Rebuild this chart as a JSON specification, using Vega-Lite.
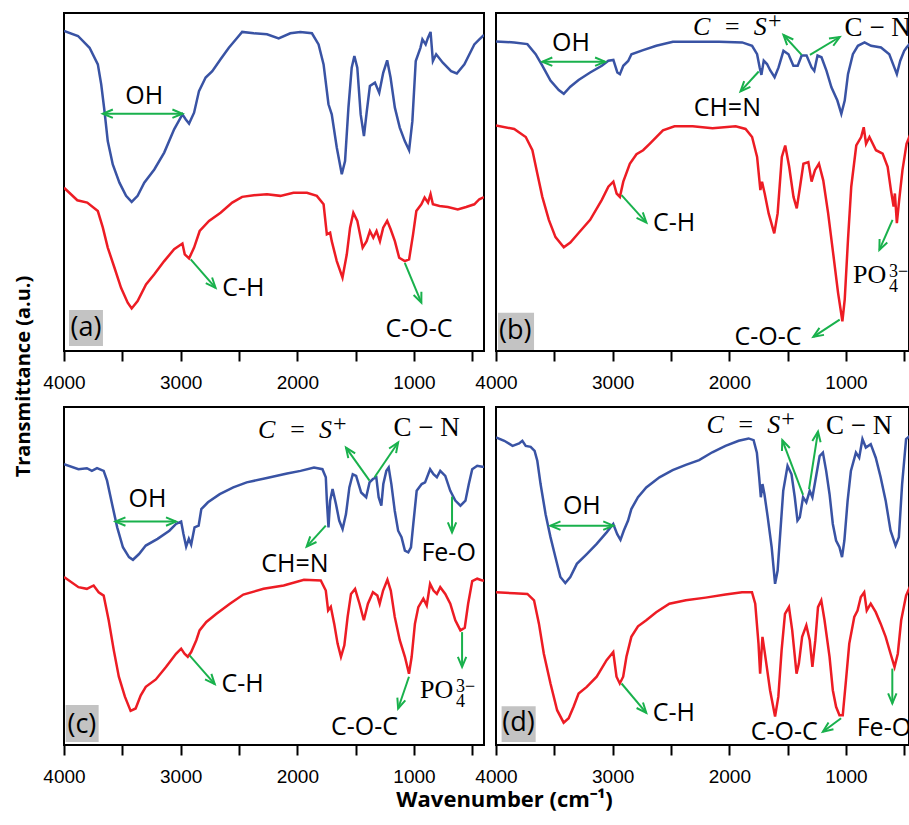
{
"$schema":"https://vega.github.io/schema/vega-lite/v6.json",
"background":"white",
"padding":{"left":12,"top":12,"right":0,"bottom":0},
"config":{"view":{"stroke":"black","strokeWidth":2}},
"columns":2,
"spacing":{"row":56,"column":12},
"bounds":"flush",
"datasets":{
"boxes":[{"p":"a","w":3957,"w2":3666,"t":1.5,"t2":12.1},{"p":"b","w":3983,"w2":3674,"t":0.3,"t2":11.3},{"p":"c","w":3986,"w2":3703,"t":0.9,"t2":11.8},{"p":"d","w":3952,"w2":3660,"t":0.9,"t2":11.5}],
"notes":[
{"p":"a","k":"p","l":"OH","w":3312,"t":75.4},{"p":"a","k":"p","l":"C-H","w":2463,"t":18.5},{"p":"a","k":"p","l":"C-O-C","w":957,"t":6.4},{"p":"a","k":"L","l":"(a)","w":3812,"t":6.8},
{"p":"b","k":"p","l":"OH","w":3357,"t":91.0},{"p":"b","k":"p","l":"CH=N","w":2017,"t":71.9},{"p":"b","k":"m","l":"C\u2002=\u2002S","w":1918,"t":95.9},{"p":"b","k":"s","l":"C − N","w":728,"t":95.7},{"p":"b","k":"p","l":"C-H","w":2474,"t":37.8},{"p":"b","k":"p","l":"C-O-C","w":1669,"t":4.2},{"p":"b","k":"po","l":"PO","w":940,"t":22.6},{"p":"b","k":"L","l":"(b)","w":3836,"t":5.9},
{"p":"c","k":"p","l":"OH","w":3285,"t":72.8},{"p":"c","k":"p","l":"CH=N","w":2021,"t":53.6},{"p":"c","k":"m","l":"C\u2002=\u2002S","w":1943,"t":93.1},{"p":"c","k":"s","l":"C − N","w":891,"t":93.9},{"p":"c","k":"p","l":"Fe-O","w":703,"t":56.7},{"p":"c","k":"p","l":"C-H","w":2470,"t":18.0},{"p":"c","k":"p","l":"C-O-C","w":1424,"t":5.4},{"p":"c","k":"po","l":"PO","w":948,"t":16.2},{"p":"c","k":"L","l":"(c)","w":3847,"t":5.9},
{"p":"d","k":"p","l":"OH","w":3264,"t":70.8},{"p":"d","k":"m","l":"C\u2002=\u2002S","w":1803,"t":94.7},{"p":"d","k":"s","l":"C − N","w":887,"t":94.4},{"p":"d","k":"p","l":"C-H","w":2476,"t":9.5},{"p":"d","k":"p","l":"C-O-C","w":1529,"t":3.9},{"p":"d","k":"p","l":"Fe-O","w":675,"t":4.9},{"p":"d","k":"L","l":"(d)","w":3808,"t":6.4}
],
"arrows":[
{"p":"a","w":3667,"t":70.2,"w2":2985,"t2":70.2},{"p":"a","w":2914,"t":27.1,"w2":2701,"t2":18.7},{"p":"a","w":1079,"t":26.1,"w2":937,"t2":14.3},
{"p":"b","w":3603,"t":85.6,"w2":3065,"t2":85.6},{"p":"b","w":1748,"t":82.7,"w2":1904,"t2":76.8},{"p":"b","w":1380,"t":87.6,"w2":1536,"t2":93.5},{"p":"b","w":1309,"t":87.6,"w2":1054,"t2":92.9},{"p":"b","w":2924,"t":46.1,"w2":2711,"t2":38.0},{"p":"b","w":1054,"t":9.3,"w2":1280,"t2":4.2},{"p":"b","w":601,"t":38.8,"w2":714,"t2":29.9},
{"p":"c","w":3559,"t":66.1,"w2":3040,"t2":66.1},{"p":"c","w":1756,"t":64.9,"w2":1920,"t2":58.7},{"p":"c","w":1381,"t":78.2,"w2":1583,"t2":88.0},{"p":"c","w":1338,"t":79.2,"w2":1136,"t2":89.5},{"p":"c","w":674,"t":73.5,"w2":674,"t2":62.9},{"p":"c","w":2924,"t":26.5,"w2":2708,"t2":18.0},{"p":"c","w":1043,"t":20.2,"w2":1136,"t2":10.8},{"p":"c","w":588,"t":33.4,"w2":588,"t2":23.1},
{"p":"d","w":3533,"t":64.9,"w2":2995,"t2":64.9},{"p":"d","w":1368,"t":74.0,"w2":1546,"t2":90.2},{"p":"d","w":1317,"t":75.7,"w2":1240,"t2":92.7},{"p":"d","w":2924,"t":18.2,"w2":2712,"t2":9.5},{"p":"d","w":1042,"t":7.9,"w2":1198,"t2":3.9},{"p":"d","w":603,"t":22.6,"w2":603,"t2":12.3}
],
"heads":[
{"p":"a","w":3667,"t":70.2,"a":270},{"p":"a","w":2985,"t":70.2,"a":90},{"p":"a","w":2701,"t":18.7,"a":138.6},{"p":"a","w":937,"t":14.3,"a":157.4},
{"p":"b","w":3603,"t":85.6,"a":270},{"p":"b","w":3065,"t":85.6,"a":90},{"p":"b","w":1904,"t":76.8,"a":222.5},{"p":"b","w":1536,"t":93.5,"a":317.5},{"p":"b","w":1054,"t":92.9,"a":59},{"p":"b","w":2711,"t":38.0,"a":137.9},{"p":"b","w":1280,"t":4.2,"a":237},{"p":"b","w":714,"t":29.9,"a":204},
{"p":"c","w":3559,"t":66.1,"a":270},{"p":"c","w":3040,"t":66.1,"a":90},{"p":"c","w":1920,"t":58.7,"a":222.1},{"p":"c","w":1583,"t":88.0,"a":325},{"p":"c","w":1136,"t":89.5,"a":33.7},{"p":"c","w":674,"t":62.9,"a":180},{"p":"c","w":2708,"t":18.0,"a":139.2},{"p":"c","w":1136,"t":10.8,"a":198.6},{"p":"c","w":588,"t":23.1,"a":180},
{"p":"d","w":3533,"t":64.9,"a":270},{"p":"d","w":2995,"t":64.9,"a":90},{"p":"d","w":1546,"t":90.2,"a":339},{"p":"d","w":1240,"t":92.7,"a":8.9},{"p":"d","w":2712,"t":9.5,"a":139.6},{"p":"d","w":1198,"t":3.9,"a":234},{"p":"d","w":603,"t":12.3,"a":180}
],
"spectra":[
{"p":"a","s":"top","w":4000,"t":94.7},{"p":"a","s":"top","w":3880,"t":93.2},{"p":"a","s":"top","w":3781,"t":89.7},{"p":"a","s":"top","w":3710,"t":84.8},{"p":"a","s":"top","w":3681,"t":78.9},{"p":"a","s":"top","w":3653,"t":71.0},{"p":"a","s":"top","w":3625,"t":62.1},{"p":"a","s":"top","w":3582,"t":55.2},{"p":"a","s":"top","w":3525,"t":49.8},{"p":"a","s":"top","w":3468,"t":45.9},{"p":"a","s":"top","w":3420,"t":44.1},{"p":"a","s":"top","w":3369,"t":45.9},{"p":"a","s":"top","w":3312,"t":49.8},{"p":"a","s":"top","w":3226,"t":53.7},{"p":"a","s":"top","w":3141,"t":58.7},{"p":"a","s":"top","w":3056,"t":65.6},{"p":"a","s":"top","w":2985,"t":70.0},{"p":"a","s":"top","w":2956,"t":68.5},{"p":"a","s":"top","w":2928,"t":67.3},{"p":"a","s":"top","w":2885,"t":70.5},{"p":"a","s":"top","w":2843,"t":76.9},{"p":"a","s":"top","w":2786,"t":80.9},{"p":"a","s":"top","w":2729,"t":82.8},{"p":"a","s":"top","w":2658,"t":86.3},{"p":"a","s":"top","w":2587,"t":89.7},{"p":"a","s":"top","w":2515,"t":92.7},{"p":"a","s":"top","w":2473,"t":94.4},{"p":"a","s":"top","w":2373,"t":94.0},{"p":"a","s":"top","w":2260,"t":93.7},{"p":"a","s":"top","w":2160,"t":92.5},{"p":"a","s":"top","w":2060,"t":94.0},{"p":"a","s":"top","w":1975,"t":94.4},{"p":"a","s":"top","w":1875,"t":94.0},{"p":"a","s":"top","w":1818,"t":90.7},{"p":"a","s":"top","w":1775,"t":84.8},{"p":"a","s":"top","w":1733,"t":73.0},{"p":"a","s":"top","w":1705,"t":70.0},{"p":"a","s":"top","w":1662,"t":60.2},{"p":"a","s":"top","w":1619,"t":52.3},{"p":"a","s":"top","w":1591,"t":56.2},{"p":"a","s":"top","w":1562,"t":72.0},{"p":"a","s":"top","w":1534,"t":83.8},{"p":"a","s":"top","w":1511,"t":87.3},{"p":"a","s":"top","w":1486,"t":83.8},{"p":"a","s":"top","w":1457,"t":70.0},{"p":"a","s":"top","w":1429,"t":63.6},{"p":"a","s":"top","w":1406,"t":70.5},{"p":"a","s":"top","w":1378,"t":78.4},{"p":"a","s":"top","w":1335,"t":79.4},{"p":"a","s":"top","w":1298,"t":76.4},{"p":"a","s":"top","w":1264,"t":82.3},{"p":"a","s":"top","w":1230,"t":86.0},{"p":"a","s":"top","w":1201,"t":80.9},{"p":"a","s":"top","w":1164,"t":72.0},{"p":"a","s":"top","w":1122,"t":66.1},{"p":"a","s":"top","w":1079,"t":62.1},{"p":"a","s":"top","w":1042,"t":59.4},{"p":"a","s":"top","w":1014,"t":68.0},{"p":"a","s":"top","w":985,"t":85.8},{"p":"a","s":"top","w":945,"t":89.7},{"p":"a","s":"top","w":928,"t":92.2},{"p":"a","s":"top","w":900,"t":90.7},{"p":"a","s":"top","w":880,"t":92.7},{"p":"a","s":"top","w":858,"t":94.4},{"p":"a","s":"top","w":838,"t":85.8},{"p":"a","s":"top","w":810,"t":87.8},{"p":"a","s":"top","w":753,"t":85.3},{"p":"a","s":"top","w":682,"t":82.8},{"p":"a","s":"top","w":633,"t":82.1},{"p":"a","s":"top","w":568,"t":84.8},{"p":"a","s":"top","w":525,"t":87.8},{"p":"a","s":"top","w":483,"t":90.7},{"p":"a","s":"top","w":440,"t":92.2},{"p":"a","s":"top","w":400,"t":93.5},
{"p":"a","s":"bottom","w":4000,"t":48.3},{"p":"a","s":"bottom","w":3886,"t":44.6},{"p":"a","s":"bottom","w":3801,"t":43.9},{"p":"a","s":"bottom","w":3710,"t":41.4},{"p":"a","s":"bottom","w":3667,"t":36.5},{"p":"a","s":"bottom","w":3625,"t":30.6},{"p":"a","s":"bottom","w":3568,"t":24.7},{"p":"a","s":"bottom","w":3511,"t":18.7},{"p":"a","s":"bottom","w":3454,"t":14.3},{"p":"a","s":"bottom","w":3420,"t":12.6},{"p":"a","s":"bottom","w":3369,"t":14.8},{"p":"a","s":"bottom","w":3297,"t":19.7},{"p":"a","s":"bottom","w":3226,"t":22.7},{"p":"a","s":"bottom","w":3141,"t":26.6},{"p":"a","s":"bottom","w":3056,"t":30.1},{"p":"a","s":"bottom","w":2985,"t":31.8},{"p":"a","s":"bottom","w":2965,"t":28.6},{"p":"a","s":"bottom","w":2928,"t":27.4},{"p":"a","s":"bottom","w":2885,"t":30.6},{"p":"a","s":"bottom","w":2837,"t":35.5},{"p":"a","s":"bottom","w":2757,"t":38.5},{"p":"a","s":"bottom","w":2658,"t":40.9},{"p":"a","s":"bottom","w":2558,"t":43.9},{"p":"a","s":"bottom","w":2473,"t":45.6},{"p":"a","s":"bottom","w":2373,"t":46.1},{"p":"a","s":"bottom","w":2260,"t":46.4},{"p":"a","s":"bottom","w":2146,"t":45.9},{"p":"a","s":"bottom","w":2033,"t":46.8},{"p":"a","s":"bottom","w":1918,"t":46.8},{"p":"a","s":"bottom","w":1833,"t":45.9},{"p":"a","s":"bottom","w":1775,"t":43.4},{"p":"a","s":"bottom","w":1747,"t":34.5},{"p":"a","s":"bottom","w":1719,"t":35.0},{"p":"a","s":"bottom","w":1705,"t":32.5},{"p":"a","s":"bottom","w":1662,"t":26.6},{"p":"a","s":"bottom","w":1613,"t":21.7},{"p":"a","s":"bottom","w":1576,"t":28.6},{"p":"a","s":"bottom","w":1548,"t":36.5},{"p":"a","s":"bottom","w":1520,"t":40.9},{"p":"a","s":"bottom","w":1486,"t":38.5},{"p":"a","s":"bottom","w":1440,"t":30.6},{"p":"a","s":"bottom","w":1406,"t":32.5},{"p":"a","s":"bottom","w":1378,"t":35.5},{"p":"a","s":"bottom","w":1349,"t":33.5},{"p":"a","s":"bottom","w":1321,"t":35.5},{"p":"a","s":"bottom","w":1292,"t":32.5},{"p":"a","s":"bottom","w":1264,"t":36.5},{"p":"a","s":"bottom","w":1230,"t":38.5},{"p":"a","s":"bottom","w":1201,"t":36.1},{"p":"a","s":"bottom","w":1164,"t":32.5},{"p":"a","s":"bottom","w":1127,"t":27.6},{"p":"a","s":"bottom","w":1079,"t":26.6},{"p":"a","s":"bottom","w":1042,"t":27.1},{"p":"a","s":"bottom","w":1008,"t":34.5},{"p":"a","s":"bottom","w":980,"t":41.4},{"p":"a","s":"bottom","w":937,"t":43.4},{"p":"a","s":"bottom","w":909,"t":45.4},{"p":"a","s":"bottom","w":880,"t":43.9},{"p":"a","s":"bottom","w":858,"t":46.4},{"p":"a","s":"bottom","w":838,"t":43.4},{"p":"a","s":"bottom","w":781,"t":42.9},{"p":"a","s":"bottom","w":710,"t":42.6},{"p":"a","s":"bottom","w":625,"t":41.9},{"p":"a","s":"bottom","w":553,"t":42.6},{"p":"a","s":"bottom","w":483,"t":43.4},{"p":"a","s":"bottom","w":440,"t":44.9},{"p":"a","s":"bottom","w":400,"t":45.5},
{"p":"b","s":"top","w":4000,"t":91.6},{"p":"b","s":"top","w":3844,"t":91.3},{"p":"b","s":"top","w":3731,"t":90.8},{"p":"b","s":"top","w":3660,"t":87.8},{"p":"b","s":"top","w":3603,"t":84.4},{"p":"b","s":"top","w":3533,"t":80.0},{"p":"b","s":"top","w":3462,"t":77.2},{"p":"b","s":"top","w":3419,"t":76.1},{"p":"b","s":"top","w":3363,"t":78.2},{"p":"b","s":"top","w":3292,"t":80.2},{"p":"b","s":"top","w":3193,"t":82.4},{"p":"b","s":"top","w":3093,"t":84.4},{"p":"b","s":"top","w":3037,"t":85.9},{"p":"b","s":"top","w":2994,"t":86.1},{"p":"b","s":"top","w":2960,"t":82.4},{"p":"b","s":"top","w":2938,"t":81.9},{"p":"b","s":"top","w":2909,"t":84.4},{"p":"b","s":"top","w":2867,"t":85.8},{"p":"b","s":"top","w":2839,"t":87.8},{"p":"b","s":"top","w":2739,"t":89.0},{"p":"b","s":"top","w":2626,"t":90.3},{"p":"b","s":"top","w":2484,"t":91.5},{"p":"b","s":"top","w":2286,"t":91.5},{"p":"b","s":"top","w":2088,"t":91.5},{"p":"b","s":"top","w":1890,"t":91.3},{"p":"b","s":"top","w":1805,"t":90.3},{"p":"b","s":"top","w":1762,"t":87.8},{"p":"b","s":"top","w":1740,"t":83.9},{"p":"b","s":"top","w":1725,"t":81.7},{"p":"b","s":"top","w":1705,"t":85.9},{"p":"b","s":"top","w":1677,"t":84.9},{"p":"b","s":"top","w":1649,"t":83.0},{"p":"b","s":"top","w":1612,"t":81.0},{"p":"b","s":"top","w":1578,"t":83.9},{"p":"b","s":"top","w":1536,"t":88.8},{"p":"b","s":"top","w":1493,"t":87.8},{"p":"b","s":"top","w":1451,"t":84.4},{"p":"b","s":"top","w":1414,"t":84.4},{"p":"b","s":"top","w":1380,"t":87.4},{"p":"b","s":"top","w":1338,"t":87.4},{"p":"b","s":"top","w":1295,"t":83.9},{"p":"b","s":"top","w":1272,"t":82.9},{"p":"b","s":"top","w":1244,"t":87.4},{"p":"b","s":"top","w":1210,"t":86.9},{"p":"b","s":"top","w":1167,"t":82.9},{"p":"b","s":"top","w":1125,"t":78.0},{"p":"b","s":"top","w":1074,"t":74.1},{"p":"b","s":"top","w":1040,"t":70.2},{"p":"b","s":"top","w":1011,"t":74.1},{"p":"b","s":"top","w":983,"t":81.9},{"p":"b","s":"top","w":941,"t":87.8},{"p":"b","s":"top","w":898,"t":90.3},{"p":"b","s":"top","w":841,"t":91.3},{"p":"b","s":"top","w":785,"t":90.3},{"p":"b","s":"top","w":700,"t":89.8},{"p":"b","s":"top","w":629,"t":87.8},{"p":"b","s":"top","w":586,"t":83.9},{"p":"b","s":"top","w":564,"t":81.9},{"p":"b","s":"top","w":535,"t":85.9},{"p":"b","s":"top","w":501,"t":88.8},{"p":"b","s":"top","w":481,"t":89.8},{"p":"b","s":"top","w":450,"t":91.0},
{"p":"b","s":"bottom","w":4000,"t":66.7},{"p":"b","s":"bottom","w":3844,"t":65.7},{"p":"b","s":"bottom","w":3745,"t":63.3},{"p":"b","s":"bottom","w":3688,"t":59.4},{"p":"b","s":"bottom","w":3646,"t":52.5},{"p":"b","s":"bottom","w":3603,"t":45.6},{"p":"b","s":"bottom","w":3547,"t":38.8},{"p":"b","s":"bottom","w":3490,"t":33.7},{"p":"b","s":"bottom","w":3419,"t":30.7},{"p":"b","s":"bottom","w":3363,"t":32.1},{"p":"b","s":"bottom","w":3292,"t":34.9},{"p":"b","s":"bottom","w":3193,"t":38.8},{"p":"b","s":"bottom","w":3093,"t":44.7},{"p":"b","s":"bottom","w":3037,"t":48.6},{"p":"b","s":"bottom","w":2994,"t":50.1},{"p":"b","s":"bottom","w":2966,"t":46.6},{"p":"b","s":"bottom","w":2938,"t":45.6},{"p":"b","s":"bottom","w":2909,"t":50.1},{"p":"b","s":"bottom","w":2853,"t":55.4},{"p":"b","s":"bottom","w":2796,"t":58.2},{"p":"b","s":"bottom","w":2739,"t":59.4},{"p":"b","s":"bottom","w":2683,"t":61.3},{"p":"b","s":"bottom","w":2569,"t":65.3},{"p":"b","s":"bottom","w":2470,"t":66.5},{"p":"b","s":"bottom","w":2314,"t":66.5},{"p":"b","s":"bottom","w":2144,"t":65.9},{"p":"b","s":"bottom","w":1946,"t":66.5},{"p":"b","s":"bottom","w":1861,"t":65.7},{"p":"b","s":"bottom","w":1805,"t":63.3},{"p":"b","s":"bottom","w":1762,"t":57.4},{"p":"b","s":"bottom","w":1734,"t":47.6},{"p":"b","s":"bottom","w":1720,"t":50.1},{"p":"b","s":"bottom","w":1697,"t":46.6},{"p":"b","s":"bottom","w":1663,"t":40.7},{"p":"b","s":"bottom","w":1615,"t":34.8},{"p":"b","s":"bottom","w":1586,"t":40.7},{"p":"b","s":"bottom","w":1550,"t":57.4},{"p":"b","s":"bottom","w":1521,"t":60.8},{"p":"b","s":"bottom","w":1487,"t":54.5},{"p":"b","s":"bottom","w":1450,"t":45.6},{"p":"b","s":"bottom","w":1422,"t":42.2},{"p":"b","s":"bottom","w":1394,"t":48.6},{"p":"b","s":"bottom","w":1365,"t":55.4},{"p":"b","s":"bottom","w":1323,"t":55.9},{"p":"b","s":"bottom","w":1295,"t":50.1},{"p":"b","s":"bottom","w":1266,"t":53.5},{"p":"b","s":"bottom","w":1232,"t":55.4},{"p":"b","s":"bottom","w":1195,"t":50.5},{"p":"b","s":"bottom","w":1153,"t":40.7},{"p":"b","s":"bottom","w":1110,"t":28.9},{"p":"b","s":"bottom","w":1068,"t":17.2},{"p":"b","s":"bottom","w":1031,"t":8.8},{"p":"b","s":"bottom","w":1011,"t":15.2},{"p":"b","s":"bottom","w":983,"t":32.9},{"p":"b","s":"bottom","w":955,"t":48.6},{"p":"b","s":"bottom","w":912,"t":60.8},{"p":"b","s":"bottom","w":870,"t":63.3},{"p":"b","s":"bottom","w":848,"t":66.2},{"p":"b","s":"bottom","w":828,"t":61.3},{"p":"b","s":"bottom","w":799,"t":63.3},{"p":"b","s":"bottom","w":743,"t":59.4},{"p":"b","s":"bottom","w":686,"t":58.4},{"p":"b","s":"bottom","w":643,"t":54.5},{"p":"b","s":"bottom","w":615,"t":47.6},{"p":"b","s":"bottom","w":592,"t":42.7},{"p":"b","s":"bottom","w":581,"t":46.6},{"p":"b","s":"bottom","w":564,"t":37.8},{"p":"b","s":"bottom","w":544,"t":44.7},{"p":"b","s":"bottom","w":516,"t":53.5},{"p":"b","s":"bottom","w":481,"t":61.3},{"p":"b","s":"bottom","w":450,"t":64.0},
{"p":"c","s":"top","w":4000,"t":83.1},{"p":"c","s":"top","w":3876,"t":81.6},{"p":"c","s":"top","w":3804,"t":81.9},{"p":"c","s":"top","w":3761,"t":81.1},{"p":"c","s":"top","w":3717,"t":81.9},{"p":"c","s":"top","w":3660,"t":81.1},{"p":"c","s":"top","w":3631,"t":78.2},{"p":"c","s":"top","w":3588,"t":71.3},{"p":"c","s":"top","w":3544,"t":64.4},{"p":"c","s":"top","w":3495,"t":58.5},{"p":"c","s":"top","w":3443,"t":55.6},{"p":"c","s":"top","w":3409,"t":54.8},{"p":"c","s":"top","w":3357,"t":56.5},{"p":"c","s":"top","w":3299,"t":59.0},{"p":"c","s":"top","w":3198,"t":61.0},{"p":"c","s":"top","w":3097,"t":63.4},{"p":"c","s":"top","w":3040,"t":65.4},{"p":"c","s":"top","w":2996,"t":66.1},{"p":"c","s":"top","w":2976,"t":62.4},{"p":"c","s":"top","w":2953,"t":58.7},{"p":"c","s":"top","w":2930,"t":61.0},{"p":"c","s":"top","w":2910,"t":59.3},{"p":"c","s":"top","w":2881,"t":64.4},{"p":"c","s":"top","w":2846,"t":64.9},{"p":"c","s":"top","w":2823,"t":69.8},{"p":"c","s":"top","w":2766,"t":71.8},{"p":"c","s":"top","w":2665,"t":74.2},{"p":"c","s":"top","w":2549,"t":76.2},{"p":"c","s":"top","w":2434,"t":77.7},{"p":"c","s":"top","w":2261,"t":79.0},{"p":"c","s":"top","w":2088,"t":80.3},{"p":"c","s":"top","w":1972,"t":81.1},{"p":"c","s":"top","w":1857,"t":82.1},{"p":"c","s":"top","w":1785,"t":81.6},{"p":"c","s":"top","w":1756,"t":79.2},{"p":"c","s":"top","w":1747,"t":72.3},{"p":"c","s":"top","w":1733,"t":64.4},{"p":"c","s":"top","w":1719,"t":72.3},{"p":"c","s":"top","w":1698,"t":75.7},{"p":"c","s":"top","w":1669,"t":71.3},{"p":"c","s":"top","w":1641,"t":66.4},{"p":"c","s":"top","w":1612,"t":63.9},{"p":"c","s":"top","w":1583,"t":68.3},{"p":"c","s":"top","w":1554,"t":76.2},{"p":"c","s":"top","w":1525,"t":80.1},{"p":"c","s":"top","w":1496,"t":79.6},{"p":"c","s":"top","w":1453,"t":74.7},{"p":"c","s":"top","w":1410,"t":73.3},{"p":"c","s":"top","w":1381,"t":77.7},{"p":"c","s":"top","w":1352,"t":78.7},{"p":"c","s":"top","w":1323,"t":79.2},{"p":"c","s":"top","w":1303,"t":73.3},{"p":"c","s":"top","w":1280,"t":70.8},{"p":"c","s":"top","w":1263,"t":77.2},{"p":"c","s":"top","w":1237,"t":81.1},{"p":"c","s":"top","w":1217,"t":82.1},{"p":"c","s":"top","w":1194,"t":77.2},{"p":"c","s":"top","w":1165,"t":69.3},{"p":"c","s":"top","w":1136,"t":63.4},{"p":"c","s":"top","w":1107,"t":61.5},{"p":"c","s":"top","w":1078,"t":57.5},{"p":"c","s":"top","w":1049,"t":57.0},{"p":"c","s":"top","w":1026,"t":58.5},{"p":"c","s":"top","w":1006,"t":65.4},{"p":"c","s":"top","w":977,"t":75.2},{"p":"c","s":"top","w":934,"t":77.2},{"p":"c","s":"top","w":905,"t":77.7},{"p":"c","s":"top","w":862,"t":81.6},{"p":"c","s":"top","w":833,"t":80.1},{"p":"c","s":"top","w":804,"t":79.2},{"p":"c","s":"top","w":775,"t":81.1},{"p":"c","s":"top","w":732,"t":79.6},{"p":"c","s":"top","w":689,"t":75.2},{"p":"c","s":"top","w":646,"t":72.3},{"p":"c","s":"top","w":602,"t":70.8},{"p":"c","s":"top","w":559,"t":72.3},{"p":"c","s":"top","w":530,"t":77.2},{"p":"c","s":"top","w":501,"t":81.6},{"p":"c","s":"top","w":458,"t":82.6},{"p":"c","s":"top","w":415,"t":82.3},{"p":"c","s":"top","w":400,"t":82.3},
{"p":"c","s":"bottom","w":4000,"t":49.7},{"p":"c","s":"bottom","w":3876,"t":46.7},{"p":"c","s":"bottom","w":3804,"t":46.2},{"p":"c","s":"bottom","w":3746,"t":47.2},{"p":"c","s":"bottom","w":3703,"t":45.2},{"p":"c","s":"bottom","w":3660,"t":44.2},{"p":"c","s":"bottom","w":3617,"t":36.9},{"p":"c","s":"bottom","w":3573,"t":28.0},{"p":"c","s":"bottom","w":3530,"t":20.2},{"p":"c","s":"bottom","w":3478,"t":14.3},{"p":"c","s":"bottom","w":3429,"t":10.1},{"p":"c","s":"bottom","w":3386,"t":10.8},{"p":"c","s":"bottom","w":3342,"t":14.7},{"p":"c","s":"bottom","w":3299,"t":17.2},{"p":"c","s":"bottom","w":3213,"t":19.4},{"p":"c","s":"bottom","w":3126,"t":23.1},{"p":"c","s":"bottom","w":3040,"t":27.0},{"p":"c","s":"bottom","w":2996,"t":28.5},{"p":"c","s":"bottom","w":2967,"t":27.0},{"p":"c","s":"bottom","w":2939,"t":26.1},{"p":"c","s":"bottom","w":2910,"t":27.5},{"p":"c","s":"bottom","w":2866,"t":31.0},{"p":"c","s":"bottom","w":2838,"t":33.9},{"p":"c","s":"bottom","w":2780,"t":36.4},{"p":"c","s":"bottom","w":2693,"t":38.8},{"p":"c","s":"bottom","w":2578,"t":41.8},{"p":"c","s":"bottom","w":2463,"t":44.5},{"p":"c","s":"bottom","w":2290,"t":46.2},{"p":"c","s":"bottom","w":2117,"t":47.2},{"p":"c","s":"bottom","w":1943,"t":48.9},{"p":"c","s":"bottom","w":1799,"t":48.7},{"p":"c","s":"bottom","w":1756,"t":45.7},{"p":"c","s":"bottom","w":1736,"t":39.8},{"p":"c","s":"bottom","w":1713,"t":40.9},{"p":"c","s":"bottom","w":1684,"t":35.9},{"p":"c","s":"bottom","w":1655,"t":30.0},{"p":"c","s":"bottom","w":1626,"t":26.1},{"p":"c","s":"bottom","w":1597,"t":29.5},{"p":"c","s":"bottom","w":1569,"t":37.9},{"p":"c","s":"bottom","w":1540,"t":44.7},{"p":"c","s":"bottom","w":1505,"t":46.2},{"p":"c","s":"bottom","w":1467,"t":41.8},{"p":"c","s":"bottom","w":1430,"t":36.9},{"p":"c","s":"bottom","w":1395,"t":41.8},{"p":"c","s":"bottom","w":1352,"t":45.2},{"p":"c","s":"bottom","w":1314,"t":44.2},{"p":"c","s":"bottom","w":1294,"t":41.8},{"p":"c","s":"bottom","w":1265,"t":45.7},{"p":"c","s":"bottom","w":1228,"t":48.9},{"p":"c","s":"bottom","w":1199,"t":45.7},{"p":"c","s":"bottom","w":1165,"t":37.9},{"p":"c","s":"bottom","w":1122,"t":31.0},{"p":"c","s":"bottom","w":1078,"t":26.1},{"p":"c","s":"bottom","w":1043,"t":21.1},{"p":"c","s":"bottom","w":1020,"t":26.1},{"p":"c","s":"bottom","w":992,"t":35.9},{"p":"c","s":"bottom","w":963,"t":40.8},{"p":"c","s":"bottom","w":920,"t":43.3},{"p":"c","s":"bottom","w":891,"t":41.3},{"p":"c","s":"bottom","w":862,"t":47.7},{"p":"c","s":"bottom","w":833,"t":45.7},{"p":"c","s":"bottom","w":804,"t":44.7},{"p":"c","s":"bottom","w":775,"t":46.7},{"p":"c","s":"bottom","w":732,"t":44.7},{"p":"c","s":"bottom","w":689,"t":41.8},{"p":"c","s":"bottom","w":646,"t":36.9},{"p":"c","s":"bottom","w":602,"t":33.9},{"p":"c","s":"bottom","w":565,"t":34.7},{"p":"c","s":"bottom","w":536,"t":41.8},{"p":"c","s":"bottom","w":501,"t":48.5},{"p":"c","s":"bottom","w":458,"t":49.2},{"p":"c","s":"bottom","w":415,"t":48.7},{"p":"c","s":"bottom","w":400,"t":48.7},
{"p":"d","s":"top","w":4000,"t":91.0},{"p":"d","s":"top","w":3929,"t":90.0},{"p":"d","s":"top","w":3858,"t":88.5},{"p":"d","s":"top","w":3802,"t":89.2},{"p":"d","s":"top","w":3774,"t":90.0},{"p":"d","s":"top","w":3745,"t":88.5},{"p":"d","s":"top","w":3703,"t":88.2},{"p":"d","s":"top","w":3669,"t":87.0},{"p":"d","s":"top","w":3646,"t":84.1},{"p":"d","s":"top","w":3618,"t":77.2},{"p":"d","s":"top","w":3575,"t":68.3},{"p":"d","s":"top","w":3533,"t":61.5},{"p":"d","s":"top","w":3491,"t":55.6},{"p":"d","s":"top","w":3448,"t":49.7},{"p":"d","s":"top","w":3406,"t":47.9},{"p":"d","s":"top","w":3363,"t":49.7},{"p":"d","s":"top","w":3307,"t":53.6},{"p":"d","s":"top","w":3222,"t":56.5},{"p":"d","s":"top","w":3137,"t":59.5},{"p":"d","s":"top","w":3052,"t":62.9},{"p":"d","s":"top","w":2995,"t":65.4},{"p":"d","s":"top","w":2961,"t":62.4},{"p":"d","s":"top","w":2933,"t":60.7},{"p":"d","s":"top","w":2905,"t":63.4},{"p":"d","s":"top","w":2868,"t":66.4},{"p":"d","s":"top","w":2840,"t":69.8},{"p":"d","s":"top","w":2783,"t":73.3},{"p":"d","s":"top","w":2712,"t":76.2},{"p":"d","s":"top","w":2599,"t":79.2},{"p":"d","s":"top","w":2486,"t":81.3},{"p":"d","s":"top","w":2373,"t":82.9},{"p":"d","s":"top","w":2259,"t":84.3},{"p":"d","s":"top","w":2146,"t":86.6},{"p":"d","s":"top","w":2033,"t":88.5},{"p":"d","s":"top","w":1920,"t":90.0},{"p":"d","s":"top","w":1835,"t":90.7},{"p":"d","s":"top","w":1792,"t":90.2},{"p":"d","s":"top","w":1764,"t":86.5},{"p":"d","s":"top","w":1744,"t":79.2},{"p":"d","s":"top","w":1730,"t":73.3},{"p":"d","s":"top","w":1716,"t":77.2},{"p":"d","s":"top","w":1699,"t":74.2},{"p":"d","s":"top","w":1671,"t":67.4},{"p":"d","s":"top","w":1637,"t":58.5},{"p":"d","s":"top","w":1608,"t":47.7},{"p":"d","s":"top","w":1586,"t":51.6},{"p":"d","s":"top","w":1566,"t":61.5},{"p":"d","s":"top","w":1538,"t":75.2},{"p":"d","s":"top","w":1501,"t":82.6},{"p":"d","s":"top","w":1467,"t":80.1},{"p":"d","s":"top","w":1439,"t":73.3},{"p":"d","s":"top","w":1416,"t":66.4},{"p":"d","s":"top","w":1396,"t":67.4},{"p":"d","s":"top","w":1368,"t":73.3},{"p":"d","s":"top","w":1340,"t":71.8},{"p":"d","s":"top","w":1311,"t":75.2},{"p":"d","s":"top","w":1288,"t":73.3},{"p":"d","s":"top","w":1263,"t":78.2},{"p":"d","s":"top","w":1226,"t":85.5},{"p":"d","s":"top","w":1198,"t":86.5},{"p":"d","s":"top","w":1170,"t":81.1},{"p":"d","s":"top","w":1141,"t":74.2},{"p":"d","s":"top","w":1113,"t":65.4},{"p":"d","s":"top","w":1085,"t":60.5},{"p":"d","s":"top","w":1056,"t":58.5},{"p":"d","s":"top","w":1034,"t":55.6},{"p":"d","s":"top","w":1014,"t":60.5},{"p":"d","s":"top","w":986,"t":72.3},{"p":"d","s":"top","w":958,"t":81.1},{"p":"d","s":"top","w":915,"t":86.5},{"p":"d","s":"top","w":887,"t":85.0},{"p":"d","s":"top","w":859,"t":90.5},{"p":"d","s":"top","w":830,"t":88.0},{"p":"d","s":"top","w":788,"t":89.0},{"p":"d","s":"top","w":745,"t":85.0},{"p":"d","s":"top","w":703,"t":79.2},{"p":"d","s":"top","w":660,"t":72.3},{"p":"d","s":"top","w":618,"t":63.4},{"p":"d","s":"top","w":575,"t":59.0},{"p":"d","s":"top","w":547,"t":61.5},{"p":"d","s":"top","w":519,"t":77.2},{"p":"d","s":"top","w":485,"t":90.5},{"p":"d","s":"top","w":450,"t":91.5},
{"p":"d","s":"bottom","w":4000,"t":45.2},{"p":"d","s":"bottom","w":3844,"t":44.9},{"p":"d","s":"bottom","w":3731,"t":44.7},{"p":"d","s":"bottom","w":3674,"t":42.8},{"p":"d","s":"bottom","w":3632,"t":35.9},{"p":"d","s":"bottom","w":3590,"t":27.0},{"p":"d","s":"bottom","w":3533,"t":18.2},{"p":"d","s":"bottom","w":3476,"t":10.3},{"p":"d","s":"bottom","w":3420,"t":6.6},{"p":"d","s":"bottom","w":3377,"t":7.9},{"p":"d","s":"bottom","w":3335,"t":11.3},{"p":"d","s":"bottom","w":3292,"t":15.2},{"p":"d","s":"bottom","w":3222,"t":17.2},{"p":"d","s":"bottom","w":3137,"t":20.2},{"p":"d","s":"bottom","w":3052,"t":25.1},{"p":"d","s":"bottom","w":2995,"t":27.5},{"p":"d","s":"bottom","w":2967,"t":20.2},{"p":"d","s":"bottom","w":2939,"t":18.2},{"p":"d","s":"bottom","w":2910,"t":20.2},{"p":"d","s":"bottom","w":2882,"t":26.1},{"p":"d","s":"bottom","w":2840,"t":32.0},{"p":"d","s":"bottom","w":2783,"t":35.1},{"p":"d","s":"bottom","w":2712,"t":36.9},{"p":"d","s":"bottom","w":2627,"t":39.3},{"p":"d","s":"bottom","w":2514,"t":41.8},{"p":"d","s":"bottom","w":2373,"t":42.8},{"p":"d","s":"bottom","w":2203,"t":43.6},{"p":"d","s":"bottom","w":2033,"t":44.5},{"p":"d","s":"bottom","w":1891,"t":45.2},{"p":"d","s":"bottom","w":1806,"t":45.2},{"p":"d","s":"bottom","w":1778,"t":41.8},{"p":"d","s":"bottom","w":1750,"t":30.0},{"p":"d","s":"bottom","w":1736,"t":21.1},{"p":"d","s":"bottom","w":1716,"t":32.0},{"p":"d","s":"bottom","w":1699,"t":28.0},{"p":"d","s":"bottom","w":1679,"t":23.1},{"p":"d","s":"bottom","w":1651,"t":16.2},{"p":"d","s":"bottom","w":1608,"t":8.4},{"p":"d","s":"bottom","w":1580,"t":14.3},{"p":"d","s":"bottom","w":1552,"t":28.0},{"p":"d","s":"bottom","w":1523,"t":38.8},{"p":"d","s":"bottom","w":1489,"t":40.8},{"p":"d","s":"bottom","w":1461,"t":33.9},{"p":"d","s":"bottom","w":1424,"t":21.1},{"p":"d","s":"bottom","w":1404,"t":24.1},{"p":"d","s":"bottom","w":1376,"t":32.0},{"p":"d","s":"bottom","w":1340,"t":35.4},{"p":"d","s":"bottom","w":1311,"t":31.0},{"p":"d","s":"bottom","w":1288,"t":23.1},{"p":"d","s":"bottom","w":1263,"t":31.0},{"p":"d","s":"bottom","w":1240,"t":40.8},{"p":"d","s":"bottom","w":1212,"t":42.8},{"p":"d","s":"bottom","w":1184,"t":36.9},{"p":"d","s":"bottom","w":1141,"t":26.1},{"p":"d","s":"bottom","w":1113,"t":16.2},{"p":"d","s":"bottom","w":1085,"t":11.3},{"p":"d","s":"bottom","w":1056,"t":8.8},{"p":"d","s":"bottom","w":1028,"t":8.8},{"p":"d","s":"bottom","w":1000,"t":19.2},{"p":"d","s":"bottom","w":972,"t":30.0},{"p":"d","s":"bottom","w":929,"t":37.9},{"p":"d","s":"bottom","w":901,"t":39.8},{"p":"d","s":"bottom","w":873,"t":43.8},{"p":"d","s":"bottom","w":844,"t":45.2},{"p":"d","s":"bottom","w":822,"t":39.8},{"p":"d","s":"bottom","w":788,"t":41.8},{"p":"d","s":"bottom","w":745,"t":39.3},{"p":"d","s":"bottom","w":703,"t":35.9},{"p":"d","s":"bottom","w":660,"t":32.0},{"p":"d","s":"bottom","w":618,"t":27.0},{"p":"d","s":"bottom","w":584,"t":23.1},{"p":"d","s":"bottom","w":556,"t":27.0},{"p":"d","s":"bottom","w":527,"t":36.9},{"p":"d","s":"bottom","w":485,"t":44.2},{"p":"d","s":"bottom","w":450,"t":47.0}
]},
"concat":[
{"width":420,"height":338,
"encoding":{"x":{"field":"w","type":"quantitative","scale":{"domain":[400,4000],"reverse":true,"nice":false,"zero":false},"axis":{"values":[4000,3500,3000,2500,2000,1500,1000,500],"labelExpr":"datum.value % 1000 === 0 ? format(datum.value, 'd') : ''","tickSize":10,"tickWidth":2,"tickColor":"black","domain":false,"grid":false,"labelFont":"Liberation Sans","labelFontSize":19,"labelColor":"black","labelPadding":12,"labelFlush":false,"labelOverlap":false,"title":null,"encode":{"ticks":{"update":{"y2":{"signal":"datum.value % 1000 === 0 ? 10 : 7"}}}}}},
"y":{"field":"t","type":"quantitative","scale":{"domain":[0,100],"nice":false,"zero":false},"axis":{"title":"Transmittance (a.u.)","ticks":false,"labels":false,"domain":false,"grid":false,"titleX":-51,"titleY":363,"titleAngle":270,"titleBaseline":"top","titleAlign":"center","titleFont":"Open Sans","titleFontSize":20,"titleFontWeight":"bold","titleColor":"black"}}},
"layer":[
{"data":{"name":"boxes"},"transform":[{"filter":"datum.p==='a'"}],"mark":{"type":"rect","color":"#c3c3c3","clip":true},"encoding":{"x2":{"field":"w2"},"y2":{"field":"t2"}}},
{"data":{"name":"spectra"},"transform":[{"filter":"datum.p==='a'"}],"mark":{"type":"line","strokeWidth":2.5,"clip":true},"encoding":{"color":{"field":"s","type":"nominal","scale":{"domain":["top","bottom"],"range":["#3953a4","#ed1c24"]},"legend":null}}},
{"data":{"name":"arrows"},"transform":[{"filter":"datum.p==='a'"}],"mark":{"type":"rule","color":"#19b14c","strokeWidth":2,"clip":true},"encoding":{"x2":{"field":"w2"},"y2":{"field":"t2"}}},
{"data":{"name":"heads"},"transform":[{"filter":"datum.p==='a'"}],"mark":{"type":"point","shape":"M-0.42,1L0,0L0.42,1","filled":false,"size":400,"strokeWidth":2,"color":"#19b14c","opacity":1,"clip":true},"encoding":{"angle":{"field":"a","type":"quantitative","scale":null}}},
{"data":{"name":"notes"},"transform":[{"filter":"datum.p==='a' && datum.k==='p'"}],"mark":{"type":"text","font":"Open Sans","fontSize":25,"color":"black","baseline":"middle","align":"center","clip":true},"encoding":{"text":{"field":"l"}}},
{"data":{"name":"notes"},"transform":[{"filter":"datum.p==='a' && datum.k==='L'"}],"mark":{"type":"text","font":"Open Sans","fontSize":27,"color":"black","baseline":"middle","align":"center","clip":true},"encoding":{"text":{"field":"l"}}}
]},
{"width":413,"height":338,
"encoding":{"x":{"field":"w","type":"quantitative","scale":{"domain":[460,4000],"reverse":true,"nice":false,"zero":false},"axis":{"values":[4000,3500,3000,2500,2000,1500,1000,500],"labelExpr":"datum.value % 1000 === 0 ? format(datum.value, 'd') : ''","tickSize":10,"tickWidth":2,"tickColor":"black","domain":false,"grid":false,"labelFont":"Liberation Sans","labelFontSize":19,"labelColor":"black","labelPadding":12,"labelFlush":false,"labelOverlap":false,"title":null,"encode":{"ticks":{"update":{"y2":{"signal":"datum.value % 1000 === 0 ? 10 : 7"}}}}}},
"y":{"field":"t","type":"quantitative","scale":{"domain":[0,100],"nice":false,"zero":false},"axis":null}},
"layer":[
{"data":{"name":"boxes"},"transform":[{"filter":"datum.p==='b'"}],"mark":{"type":"rect","color":"#c3c3c3","clip":true},"encoding":{"x2":{"field":"w2"},"y2":{"field":"t2"}}},
{"data":{"name":"spectra"},"transform":[{"filter":"datum.p==='b'"}],"mark":{"type":"line","strokeWidth":2.5,"clip":true},"encoding":{"color":{"field":"s","type":"nominal","scale":{"domain":["top","bottom"],"range":["#3953a4","#ed1c24"]},"legend":null}}},
{"data":{"name":"arrows"},"transform":[{"filter":"datum.p==='b'"}],"mark":{"type":"rule","color":"#19b14c","strokeWidth":2,"clip":true},"encoding":{"x2":{"field":"w2"},"y2":{"field":"t2"}}},
{"data":{"name":"heads"},"transform":[{"filter":"datum.p==='b'"}],"mark":{"type":"point","shape":"M-0.42,1L0,0L0.42,1","filled":false,"size":400,"strokeWidth":2,"color":"#19b14c","opacity":1,"clip":true},"encoding":{"angle":{"field":"a","type":"quantitative","scale":null}}},
{"data":{"name":"notes"},"transform":[{"filter":"datum.p==='b' && datum.k==='p'"}],"mark":{"type":"text","font":"Open Sans","fontSize":25,"color":"black","baseline":"middle","align":"center","clip":true},"encoding":{"text":{"field":"l"}}},
{"data":{"name":"notes"},"transform":[{"filter":"datum.p==='b' && datum.k==='L'"}],"mark":{"type":"text","font":"Open Sans","fontSize":27,"color":"black","baseline":"middle","align":"center","clip":true},"encoding":{"text":{"field":"l"}}},
{"data":{"name":"notes"},"transform":[{"filter":"datum.p==='b' && datum.k==='m'"}],"mark":{"type":"text","font":"Liberation Serif","fontStyle":"italic","fontSize":26,"color":"black","baseline":"middle","align":"center","dx":-9,"clip":true},"encoding":{"text":{"field":"l"}}},
{"data":{"name":"notes"},"transform":[{"filter":"datum.p==='b' && datum.k==='m'"}],"mark":{"type":"text","font":"Liberation Serif","fontSize":24,"color":"black","baseline":"middle","align":"left","dx":29,"dy":-6,"clip":true},"encoding":{"text":{"value":"+"}}},
{"data":{"name":"notes"},"transform":[{"filter":"datum.p==='b' && datum.k==='s'"}],"mark":{"type":"text","font":"Liberation Serif","fontSize":27,"color":"black","baseline":"middle","align":"center","clip":true},"encoding":{"text":{"field":"l"}}},
{"data":{"name":"notes"},"transform":[{"filter":"datum.p==='b' && datum.k==='po'"}],"mark":{"type":"text","font":"Liberation Serif","fontSize":26,"color":"black","baseline":"middle","align":"left","clip":true},"encoding":{"text":{"value":"PO"}}},
{"data":{"name":"notes"},"transform":[{"filter":"datum.p==='b' && datum.k==='po'"}],"mark":{"type":"text","font":"Liberation Serif","fontSize":18,"color":"black","baseline":"middle","align":"left","dx":36,"dy":-3,"clip":true},"encoding":{"text":{"value":"3−"}}},
{"data":{"name":"notes"},"transform":[{"filter":"datum.p==='b' && datum.k==='po'"}],"mark":{"type":"text","font":"Liberation Serif","fontSize":18,"color":"black","baseline":"middle","align":"left","dx":36,"dy":12,"clip":true},"encoding":{"text":{"value":"4"}}}
]},
{"width":420,"height":338,
"encoding":{"x":{"field":"w","type":"quantitative","scale":{"domain":[400,4000],"reverse":true,"nice":false,"zero":false},"axis":{"values":[4000,3500,3000,2500,2000,1500,1000,500],"labelExpr":"datum.value % 1000 === 0 ? format(datum.value, 'd') : ''","tickSize":10,"tickWidth":2,"tickColor":"black","domain":false,"grid":false,"labelFont":"Liberation Sans","labelFontSize":19,"labelColor":"black","labelPadding":12,"labelFlush":false,"labelOverlap":false,"title":"Wavenumber (cm⁻¹)","titleX":440,"titleY":54,"titleBaseline":"middle","titleAlign":"center","titleFont":"Open Sans","titleFontSize":22,"titleFontWeight":"bold","titleColor":"black","encode":{"ticks":{"update":{"y2":{"signal":"datum.value % 1000 === 0 ? 10 : 7"}}}}}},
"y":{"field":"t","type":"quantitative","scale":{"domain":[0,100],"nice":false,"zero":false},"axis":null}},
"layer":[
{"data":{"name":"boxes"},"transform":[{"filter":"datum.p==='c'"}],"mark":{"type":"rect","color":"#c3c3c3","clip":true},"encoding":{"x2":{"field":"w2"},"y2":{"field":"t2"}}},
{"data":{"name":"spectra"},"transform":[{"filter":"datum.p==='c'"}],"mark":{"type":"line","strokeWidth":2.5,"clip":true},"encoding":{"color":{"field":"s","type":"nominal","scale":{"domain":["top","bottom"],"range":["#3953a4","#ed1c24"]},"legend":null}}},
{"data":{"name":"arrows"},"transform":[{"filter":"datum.p==='c'"}],"mark":{"type":"rule","color":"#19b14c","strokeWidth":2,"clip":true},"encoding":{"x2":{"field":"w2"},"y2":{"field":"t2"}}},
{"data":{"name":"heads"},"transform":[{"filter":"datum.p==='c'"}],"mark":{"type":"point","shape":"M-0.42,1L0,0L0.42,1","filled":false,"size":400,"strokeWidth":2,"color":"#19b14c","opacity":1,"clip":true},"encoding":{"angle":{"field":"a","type":"quantitative","scale":null}}},
{"data":{"name":"notes"},"transform":[{"filter":"datum.p==='c' && datum.k==='p'"}],"mark":{"type":"text","font":"Open Sans","fontSize":25,"color":"black","baseline":"middle","align":"center","clip":true},"encoding":{"text":{"field":"l"}}},
{"data":{"name":"notes"},"transform":[{"filter":"datum.p==='c' && datum.k==='L'"}],"mark":{"type":"text","font":"Open Sans","fontSize":27,"color":"black","baseline":"middle","align":"center","clip":true},"encoding":{"text":{"field":"l"}}},
{"data":{"name":"notes"},"transform":[{"filter":"datum.p==='c' && datum.k==='m'"}],"mark":{"type":"text","font":"Liberation Serif","fontStyle":"italic","fontSize":26,"color":"black","baseline":"middle","align":"center","dx":-9,"clip":true},"encoding":{"text":{"field":"l"}}},
{"data":{"name":"notes"},"transform":[{"filter":"datum.p==='c' && datum.k==='m'"}],"mark":{"type":"text","font":"Liberation Serif","fontSize":24,"color":"black","baseline":"middle","align":"left","dx":29,"dy":-6,"clip":true},"encoding":{"text":{"value":"+"}}},
{"data":{"name":"notes"},"transform":[{"filter":"datum.p==='c' && datum.k==='s'"}],"mark":{"type":"text","font":"Liberation Serif","fontSize":27,"color":"black","baseline":"middle","align":"center","clip":true},"encoding":{"text":{"field":"l"}}},
{"data":{"name":"notes"},"transform":[{"filter":"datum.p==='c' && datum.k==='po'"}],"mark":{"type":"text","font":"Liberation Serif","fontSize":26,"color":"black","baseline":"middle","align":"left","clip":true},"encoding":{"text":{"value":"PO"}}},
{"data":{"name":"notes"},"transform":[{"filter":"datum.p==='c' && datum.k==='po'"}],"mark":{"type":"text","font":"Liberation Serif","fontSize":18,"color":"black","baseline":"middle","align":"left","dx":36,"dy":-3,"clip":true},"encoding":{"text":{"value":"3−"}}},
{"data":{"name":"notes"},"transform":[{"filter":"datum.p==='c' && datum.k==='po'"}],"mark":{"type":"text","font":"Liberation Serif","fontSize":18,"color":"black","baseline":"middle","align":"left","dx":36,"dy":12,"clip":true},"encoding":{"text":{"value":"4"}}}
]},
{"width":413,"height":338,
"encoding":{"x":{"field":"w","type":"quantitative","scale":{"domain":[460,4000],"reverse":true,"nice":false,"zero":false},"axis":{"values":[4000,3500,3000,2500,2000,1500,1000,500],"labelExpr":"datum.value % 1000 === 0 ? format(datum.value, 'd') : ''","tickSize":10,"tickWidth":2,"tickColor":"black","domain":false,"grid":false,"labelFont":"Liberation Sans","labelFontSize":19,"labelColor":"black","labelPadding":12,"labelFlush":false,"labelOverlap":false,"title":null,"encode":{"ticks":{"update":{"y2":{"signal":"datum.value % 1000 === 0 ? 10 : 7"}}}}}},
"y":{"field":"t","type":"quantitative","scale":{"domain":[0,100],"nice":false,"zero":false},"axis":null}},
"layer":[
{"data":{"name":"boxes"},"transform":[{"filter":"datum.p==='d'"}],"mark":{"type":"rect","color":"#c3c3c3","clip":true},"encoding":{"x2":{"field":"w2"},"y2":{"field":"t2"}}},
{"data":{"name":"spectra"},"transform":[{"filter":"datum.p==='d'"}],"mark":{"type":"line","strokeWidth":2.5,"clip":true},"encoding":{"color":{"field":"s","type":"nominal","scale":{"domain":["top","bottom"],"range":["#3953a4","#ed1c24"]},"legend":null}}},
{"data":{"name":"arrows"},"transform":[{"filter":"datum.p==='d'"}],"mark":{"type":"rule","color":"#19b14c","strokeWidth":2,"clip":true},"encoding":{"x2":{"field":"w2"},"y2":{"field":"t2"}}},
{"data":{"name":"heads"},"transform":[{"filter":"datum.p==='d'"}],"mark":{"type":"point","shape":"M-0.42,1L0,0L0.42,1","filled":false,"size":400,"strokeWidth":2,"color":"#19b14c","opacity":1,"clip":true},"encoding":{"angle":{"field":"a","type":"quantitative","scale":null}}},
{"data":{"name":"notes"},"transform":[{"filter":"datum.p==='d' && datum.k==='p'"}],"mark":{"type":"text","font":"Open Sans","fontSize":25,"color":"black","baseline":"middle","align":"center","clip":true},"encoding":{"text":{"field":"l"}}},
{"data":{"name":"notes"},"transform":[{"filter":"datum.p==='d' && datum.k==='L'"}],"mark":{"type":"text","font":"Open Sans","fontSize":27,"color":"black","baseline":"middle","align":"center","clip":true},"encoding":{"text":{"field":"l"}}},
{"data":{"name":"notes"},"transform":[{"filter":"datum.p==='d' && datum.k==='m'"}],"mark":{"type":"text","font":"Liberation Serif","fontStyle":"italic","fontSize":26,"color":"black","baseline":"middle","align":"center","dx":-9,"clip":true},"encoding":{"text":{"field":"l"}}},
{"data":{"name":"notes"},"transform":[{"filter":"datum.p==='d' && datum.k==='m'"}],"mark":{"type":"text","font":"Liberation Serif","fontSize":24,"color":"black","baseline":"middle","align":"left","dx":29,"dy":-6,"clip":true},"encoding":{"text":{"value":"+"}}},
{"data":{"name":"notes"},"transform":[{"filter":"datum.p==='d' && datum.k==='s'"}],"mark":{"type":"text","font":"Liberation Serif","fontSize":27,"color":"black","baseline":"middle","align":"center","clip":true},"encoding":{"text":{"field":"l"}}}
]}
]
}
